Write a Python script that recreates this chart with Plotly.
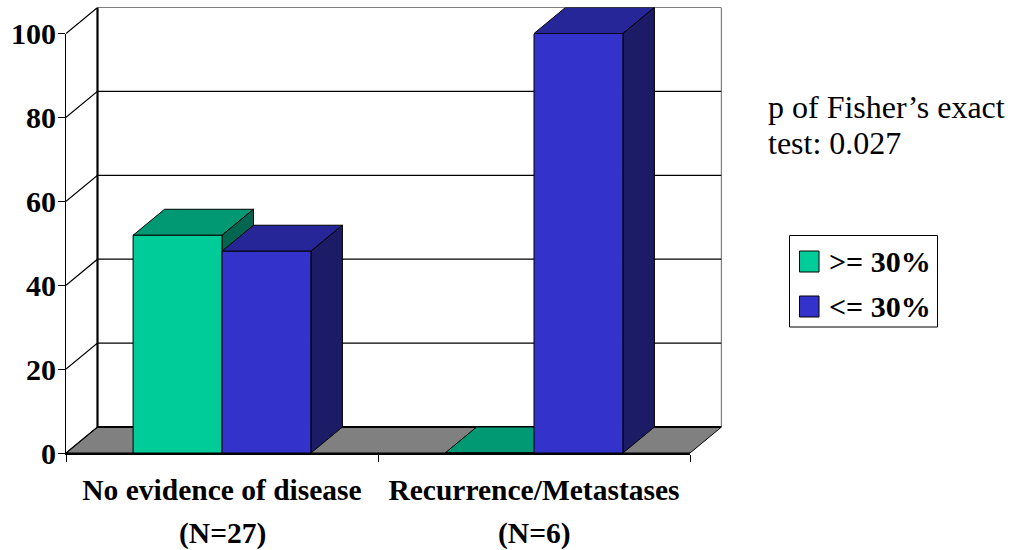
import plotly.graph_objects as go

categories = ["No evidence of disease", "Recurrence/Metastases"]
group_sizes = ["(N=27)", "(N=6)"]
series_names = [">= 30%", "<= 30%"]
high_values = [51.9, 0]
low_values = [48.1, 100]
y_ticks = [0, 20, 40, 60, 80, 100]
note_lines = ["p of Fisher\u2019s exact", "test: 0.027"]

W, H = 1018, 550
FRONT_L, FRONT_R, BACK_R = 66, 690, 721.5
FRONT_B, FRONT_T, BACK_T = 453, 33.5, 7.5
DX = (BACK_R - FRONT_R) / ((FRONT_R - FRONT_L) / 2)
DY = (FRONT_T - BACK_T) / ((FRONT_B - FRONT_T) / 100)
BARGAP = 0.43
BW = (1 - BARGAP) / 2
X0, X1 = -0.5, 1.5
SERIF = "Liberation Serif"
COLORS = {
    "high": ("#00CC99", "#009973", "#006650"),
    "low": ("#3333CC", "#262699", "#1B1B66"),
}


def fx(px):
    return px / W


def fy(py):
    return 1 - py / H


fig = go.Figure()


def poly(xs, ys, fill):
    fig.add_trace(go.Scatter(x=xs, y=ys, mode="lines", fill="toself", fillcolor=fill,
                             line=dict(color="black", width=1), showlegend=False,
                             hoverinfo="skip", xaxis="x", yaxis="y", cliponaxis=False))


def line(xs, ys, width=1):
    fig.add_trace(go.Scatter(x=xs, y=ys, mode="lines", line=dict(color="black", width=width),
                             showlegend=False, hoverinfo="skip", xaxis="x", yaxis="y", cliponaxis=False))


# walls and floor
poly([X0, X1, X1 + DX, X0 + DX, X0], [0, 0, DY, DY, 0], "#808080")
for t in y_ticks[1:]:
    line([X0, X0 + DX, X1 + DX], [t, t + DY, t + DY], 1.2)
line([X0 + DX, X1 + DX], [DY, DY], 2)
line([X0 + DX, X0 + DX], [DY, 100 + DY], 2.2)
line([X1 + DX, X1 + DX], [DY, 100 + DY], 1.2)
line([X0, X0 + DX], [0, DY], 1.2)

# depth faces of the bars
for key, vals, off in (("high", high_values, -BW), ("low", low_values, 0)):
    _, top, side = COLORS[key]
    for i, v in enumerate(vals):
        a, b = i + off, i + off + BW
        poly([a, b, b + DX, a + DX, a], [v, v, v + DY, v + DY, v], top)
        if v > 0:
            poly([b, b + DX, b + DX, b, b], [v, v + DY, DY, 0, v], side)

# front faces
for name, vals, key in ((series_names[0], high_values, "high"), (series_names[1], low_values, "low")):
    fig.add_trace(go.Bar(x=[0, 1], y=vals, name=name, xaxis="x2", yaxis="y2", showlegend=False,
                         marker=dict(color=COLORS[key][0], line=dict(color="black", width=1))))

annotations = []
for text, yc in zip(note_lines, (107, 143)):
    annotations.append(dict(text=text, xref="paper", yref="paper", x=fx(766), y=fy(yc),
                            xanchor="left", yanchor="middle", showarrow=False,
                            font=dict(family=SERIF, size=32, color="black")))
for i, g in enumerate(group_sizes):
    annotations.append(dict(text=g, xref="x2", yref="paper", x=i, y=fy(533), yanchor="middle",
                            showarrow=False, font=dict(family=SERIF, size=29.5, color="black", weight="bold")))

# legend box
shapes = [dict(type="rect", xref="paper", yref="paper", x0=fx(789.5), x1=fx(937.5), y0=fy(327), y1=fy(235.5),
               line=dict(color="black", width=1), fillcolor="white")]
for name, key, top_px in ((series_names[0], "high", 251), (series_names[1], "low", 296)):
    shapes.append(dict(type="rect", xref="paper", yref="paper", x0=fx(799.5), x1=fx(819), y0=fy(top_px + 21),
                       y1=fy(top_px), line=dict(color="black", width=1), fillcolor=COLORS[key][0]))
    annotations.append(dict(text=name, xref="paper", yref="paper", x=fx(827), y=fy(top_px + 10.5), xanchor="left",
                            yanchor="middle", showarrow=False,
                            font=dict(family=SERIF, size=30, color="black", weight="bold")))

fig.update_layout(
    width=W, height=H, margin=dict(l=0, r=0, t=0, b=0), paper_bgcolor="white", plot_bgcolor="rgba(0,0,0,0)",
    barmode="group", bargap=BARGAP, bargroupgap=0, showlegend=False,
    xaxis=dict(domain=[fx(FRONT_L), fx(BACK_R)], range=[X0, X1 + DX], visible=False, automargin=False),
    yaxis=dict(domain=[fy(FRONT_B), fy(BACK_T)], range=[0, 100 + DY], visible=False, automargin=False),
    xaxis2=dict(domain=[fx(FRONT_L), fx(FRONT_R)], range=[X0, X1], anchor="y2", showgrid=False, automargin=False,
                tickvals=[0, 1], ticktext=categories, ticks="", showline=True, linecolor="black", linewidth=2,
                ticklabelstandoff=10,
                tickfont=dict(family=SERIF, size=29.5, color="black", weight="bold"),
                minor=dict(tickvals=[-0.5, 0.5, 1.5], ticks="outside", ticklen=7, tickcolor="black", tickwidth=1)),
    yaxis2=dict(domain=[fy(FRONT_B), fy(FRONT_T)], range=[0, 100], anchor="x2", showgrid=False,
                automargin=False, zeroline=False, tickvals=y_ticks, ticks="outside", ticklen=7, tickcolor="black",
                showline=True, linecolor="black", linewidth=1, ticklabelstandoff=-4,
                tickfont=dict(family=SERIF, size=30, color="black", weight="bold")),
    annotations=annotations,
    shapes=shapes,
)
fig.write_html("out.html", post_script="document.body.style.margin='0';", config={"displayModeBar": False})
